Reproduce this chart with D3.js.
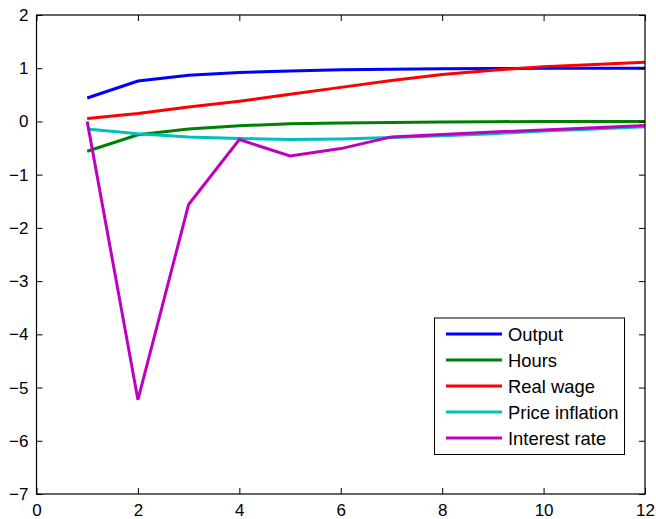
<!DOCTYPE html>
<html><head><meta charset="utf-8">
<script src="https://cdn.jsdelivr.net/npm/d3@7"></script>
<style>body{margin:0;background:#fff}svg{display:block}text{font-family:"Liberation Sans",Arial,sans-serif}</style>
</head><body>
<script>
const periods = [1,2,3,4,5,6,7,8,9,10,11,12];
const seriesNames = ["Output","Hours","Real wage","Price inflation","Interest rate"];
const seriesColors = ["#0000ff","#008000","#ff0000","#00bfbf","#bf00bf"];
const output = [0.44,0.76,0.87,0.92,0.95,0.97,0.98,0.99,0.995,1.0,1.0,1.0];
const hours = [-0.56,-0.25,-0.14,-0.08,-0.045,-0.03,-0.02,-0.01,-0.005,0,0,0];
const realWage = [0.056,0.15,0.27,0.38,0.51,0.64,0.77,0.88,0.96,1.03,1.07,1.11];
const priceInflation = [-0.14,-0.23,-0.29,-0.32,-0.34,-0.33,-0.30,-0.27,-0.23,-0.18,-0.14,-0.10];
const interestRate = [0,-5.23,-1.56,-0.34,-0.65,-0.51,-0.29,-0.245,-0.2,-0.16,-0.12,-0.075];
const xTicks = [0,2,4,6,8,10,12];
const yTicks = [2,1,0,-1,-2,-3,-4,-5,-6,-7];

const W=656,H=519;
const L=36.5,R=645,T=15,B=494;
const svg=d3.select("body").append("svg").attr("width",W).attr("height",H);
const x=d3.scaleLinear().domain([0,12]).range([L,R]);
const y=d3.scaleLinear().domain([-7,2]).range([B,T]);
const fmt=d=>d<0?"\u2212"+Math.abs(d):String(d);

const data=[output,hours,realWage,priceInflation,interestRate];
const line=d3.line().x((d,i)=>x(periods[i])).y(d=>y(d));
const g=svg.append("g");
data.forEach((s,k)=>{
  g.append("path").attr("d",line(s)).attr("fill","none").attr("stroke",seriesColors[k]).attr("stroke-width",3).attr("stroke-linejoin","miter");
});

// axes box
svg.append("rect").attr("x",L).attr("y",T).attr("width",R-L).attr("height",B-T).attr("fill","none").attr("stroke","#000").attr("stroke-width",1.2);
const tl=6;
const axB=svg.append("g").attr("transform",`translate(0,${B})`).call(d3.axisBottom(x).tickValues(xTicks).tickFormat(fmt).tickSizeInner(-tl).tickSizeOuter(0).tickPadding(10));
const axT=svg.append("g").attr("transform",`translate(0,${T})`).call(d3.axisTop(x).tickValues(xTicks).tickFormat("").tickSizeInner(-tl).tickSizeOuter(0));
const axL=svg.append("g").attr("transform",`translate(${L},0)`).call(d3.axisLeft(y).tickValues(yTicks).tickFormat(fmt).tickSizeInner(-tl).tickSizeOuter(0).tickPadding(8));
const axR=svg.append("g").attr("transform",`translate(${R},0)`).call(d3.axisRight(y).tickValues(yTicks).tickFormat("").tickSizeInner(-tl).tickSizeOuter(0));
[axB,axT,axL,axR].forEach(a=>{a.select(".domain").remove();a.selectAll("line").attr("stroke","#000");a.selectAll("text").attr("font-size",17).attr("fill","#000").style("font-family","Liberation Sans, Arial, sans-serif");});

// legend
const lg=svg.append("g");
lg.append("rect").attr("x",434.5).attr("y",318).attr("width",190).attr("height",136.5).attr("fill","#fff").attr("stroke","#000").attr("stroke-width",1);
seriesNames.forEach((n,k)=>{
  const yy=334+k*26;
  lg.append("line").attr("x1",446).attr("x2",502).attr("y1",yy).attr("y2",yy).attr("stroke",seriesColors[k]).attr("stroke-width",3);
  lg.append("text").attr("x",508).attr("y",yy).attr("dy","0.36em").attr("font-size",18.4).text(n);
});
</script>
</body></html>
